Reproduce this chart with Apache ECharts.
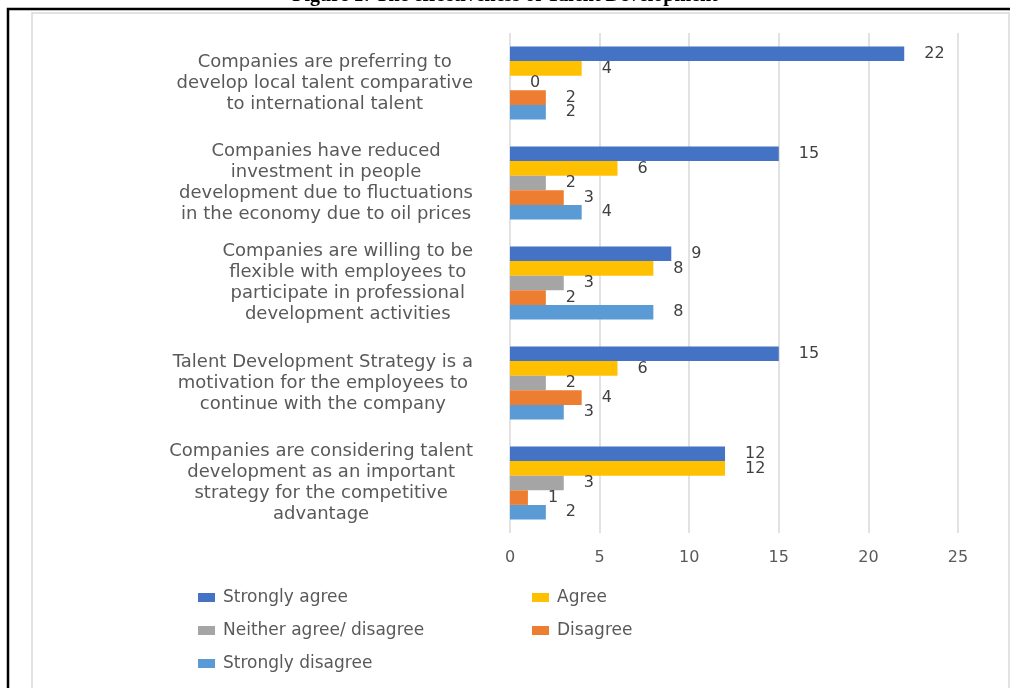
<!DOCTYPE html>
<html>
<head>
<meta charset="utf-8">
<script src="https://cdn.jsdelivr.net/npm/echarts@6/dist/echarts.min.js"></script>
<style>
  html, body { margin: 0; padding: 0; background: #fff; }
  #main { width: 1010px; height: 688px; }
</style>
</head>
<body>
<div id="main"></div>
<script>
// statements, top to bottom as in the figure
var categories = [
  'Companies are preferring to\ndevelop local talent comparative\nto international talent',
  'Companies have reduced\ninvestment in people\ndevelopment due to fluctuations\nin the economy due to oil prices',
  'Companies are willing to be\nflexible with employees to\nparticipate in professional\ndevelopment activities',
  'Talent Development Strategy is a\nmotivation for the employees to\ncontinue with the company',
  'Companies are considering talent\ndevelopment as an important\nstrategy for the competitive\nadvantage'
];
var seriesNames = ['Strongly agree', 'Agree', 'Neither agree/ disagree', 'Disagree', 'Strongly disagree'];
var seriesColors = ['#4472C4', '#FFC000', '#A5A5A5', '#ED7D31', '#5B9BD5'];

var stronglyAgree = [22, 15, 9, 15, 12];
var agree = [4, 6, 8, 6, 12];
var neither = [0, 2, 3, 2, 3];
var disagree = [2, 3, 2, 4, 1];
var stronglyDisagree = [2, 4, 8, 3, 2];
var values = [stronglyAgree, agree, neither, disagree, stronglyDisagree];

var xTicks = { min: 0, max: 25, interval: 5 };

var font = 'DejaVu Sans';
var myChart = echarts.init(document.getElementById('main'));

var series = seriesNames.map(function (name, i) {
  return {
    name: name,
    type: 'bar',
    data: values[i],
    barGap: '0%',
    barCategoryGap: '27%',
    itemStyle: { color: seriesColors[i] },
    label: {
      show: true,
      position: 'right',
      distance: 20,
      color: '#404040',
      fontFamily: font,
      fontSize: 16
    }
  };
});

var legendText = { fontFamily: font, fontSize: 17, color: '#595959', lineHeight: 17, padding: [0, 0, 0, 3] };

myChart.setOption({
  animation: false,
  backgroundColor: '#fff',
  title: {
    text: 'Figure 1: The effectiveness of Talent Development',
    left: 'center',
    top: -19,
    textStyle: { fontFamily: 'Liberation Serif', fontWeight: 'bold', fontSize: 20, color: '#000' }
  },
  graphic: [
    { type: 'rect', shape: { x: 8, y: 9, width: 1100, height: 800 }, style: { fill: 'none', stroke: '#000', lineWidth: 2.5 }, silent: true },
    { type: 'rect', shape: { x: 32, y: 13, width: 977, height: 800 }, style: { fill: 'none', stroke: '#d9d9d9', lineWidth: 1.5 }, silent: true }
  ],
  grid: { left: 510, right: 52, top: 33, bottom: 155 },
  legend: [
    {
      data: [seriesNames[0], seriesNames[2], seriesNames[4]],
      orient: 'vertical',
      left: 193, top: 584,
      itemWidth: 17, itemHeight: 9, itemGap: 16,
      icon: 'rect',
      textStyle: legendText
    },
    {
      data: [seriesNames[1], seriesNames[3]],
      orient: 'vertical',
      left: 527, top: 584,
      itemWidth: 17, itemHeight: 9, itemGap: 16,
      icon: 'rect',
      textStyle: legendText
    }
  ],
  xAxis: {
    type: 'value',
    min: xTicks.min,
    max: xTicks.max,
    interval: xTicks.interval,
    axisLine: { show: false },
    axisTick: { show: false },
    axisLabel: { color: '#595959', fontFamily: font, fontSize: 16, margin: 17 },
    splitLine: { lineStyle: { color: '#d9d9d9', width: 1.5 } }
  },
  yAxis: {
    type: 'category',
    inverse: true,
    data: categories,
    axisLine: { show: false },
    axisTick: { show: false },
    axisLabel: {
      margin: 37,
      align: 'right',
      formatter: function (v) {
        return v.split('\n').map(function (l) { return '{a|' + l + '}'; }).join('\n');
      },
      rich: {
        a: { align: 'center', fontFamily: font, fontSize: 18, lineHeight: 21, color: '#595959' }
      }
    }
  },
  series: series
});
</script>
</body>
</html>
